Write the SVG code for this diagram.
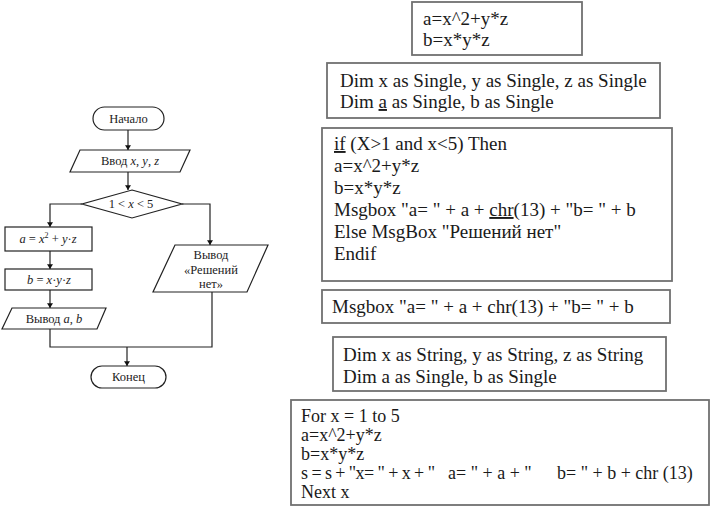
<svg xmlns="http://www.w3.org/2000/svg" width="712" height="509" viewBox="0 0 712 509">
<defs>
<marker id="ah" viewBox="0 0 8 10" refX="8" refY="5" markerWidth="5" markerHeight="6" orient="auto" markerUnits="userSpaceOnUse">
<path d="M0,0 L8,5 L0,10 Z" fill="#111"/>
</marker>
<style>
.fc{fill:#fff;stroke:#222;stroke-width:1.2}
.ft{font-family:"Liberation Serif","Times New Roman",serif;font-size:12.5px;fill:#222;text-anchor:middle}
.i{font-style:italic}
.cn{fill:none;stroke:#222;stroke-width:1.2}
.bx{fill:#fff;stroke:#707070;stroke-width:1.8}
.ct{font-family:"Liberation Serif","Times New Roman",serif;font-size:19px;fill:#1a1a1a}
.cs{font-family:"Liberation Serif","Times New Roman",serif;font-size:18px;fill:#1a1a1a}
.u{text-decoration:underline}
</style>
</defs>
<rect width="712" height="509" fill="#fff"/>

<g id="connectors">
<path class="cn" d="M128,130 V150" marker-end="url(#ah)"/>
<path class="cn" d="M128,172 V190" marker-end="url(#ah)"/>
<path class="cn" d="M82,204 H50 V227" marker-end="url(#ah)"/>
<path class="cn" d="M182,204 H210 V245" marker-end="url(#ah)"/>
<path class="cn" d="M50,251 V269" marker-end="url(#ah)"/>
<path class="cn" d="M50,290 V308" marker-end="url(#ah)"/>
<path class="cn" d="M50,329 V347 H212 V292"/>
<path class="cn" d="M127,347 V366" marker-end="url(#ah)"/>
</g>

<g id="start">
<rect class="fc" x="93" y="107" width="71" height="23" rx="11.5"/>
<text class="ft" x="128.5" y="123">Начало</text>
</g>
<g id="input">
<polygon class="fc" points="80,150 190,150 180,172 70,172"/>
<text class="ft" x="130" y="165">Ввод <tspan class="i">x</tspan>, <tspan class="i">y</tspan>, <tspan class="i">z</tspan></text>
</g>
<g id="decision">
<polygon class="fc" points="132,190 182,204 132,218 82,204"/>
<text class="ft" x="131" y="208">1 &lt; <tspan class="i">x</tspan> &lt; 5</text>
</g>
<g id="calc-a">
<rect class="fc" x="5" y="227" width="87" height="24"/>
<text class="ft" x="48" y="243"><tspan class="i">a</tspan> = <tspan class="i">x</tspan><tspan font-size="8" dy="-5">2</tspan><tspan dy="5"> + </tspan><tspan class="i">y</tspan>·<tspan class="i">z</tspan></text>
</g>
<g id="calc-b">
<rect class="fc" x="5" y="269" width="87" height="21"/>
<text class="ft" x="49" y="284"><tspan class="i">b</tspan> = <tspan class="i">x</tspan>·<tspan class="i">y</tspan>·<tspan class="i">z</tspan></text>
</g>
<g id="output-ab">
<polygon class="fc" points="12,308 106,308 97,329 2,329"/>
<text class="ft" x="54" y="323">Вывод <tspan class="i">a</tspan>, <tspan class="i">b</tspan></text>
</g>
<g id="output-none">
<polygon class="fc" points="175,245 268,245 247,292 153,292"/>
<text class="ft" x="211" y="259">Вывод</text>
<text class="ft" x="211" y="274">«Решений</text>
<text class="ft" x="211" y="288">нет»</text>
</g>
<g id="end">
<rect class="fc" x="91" y="366" width="75" height="22" rx="11"/>
<text class="ft" x="128.5" y="381">Конец</text>
</g>

<g id="code1">
<rect class="bx" x="412" y="2" width="170" height="53"/>
<text class="ct" x="423" y="25">a=x^2+y*z</text>
<text class="ct" x="423" y="46">b=x*y*z</text>
</g>
<g id="code2">
<rect class="bx" x="327" y="63" width="333" height="55"/>
<text class="ct" x="340" y="87">Dim x as Single, y as Single, z as Single</text>
<text class="ct" x="340" y="108">Dim <tspan class="u">a</tspan> as Single, b as Single</text>
</g>
<g id="code3">
<rect class="bx" x="322" y="128" width="350" height="153"/>
<text class="ct" x="334" y="150"><tspan class="u">if</tspan> (X&gt;1 and x&lt;5) Then</text>
<text class="ct" x="334" y="172">a=x^2+y*z</text>
<text class="ct" x="334" y="194">b=x*y*z</text>
<text class="ct" x="334" y="216">Msgbox "a= " + a + <tspan class="u">chr</tspan>(13) + "b= " + b</text>
<text class="ct" x="334" y="238">Else MsgBox "Решений нет"</text>
<text class="ct" x="334" y="260">Endif</text>
</g>
<g id="code4">
<rect class="bx" x="322" y="290" width="348" height="33"/>
<text class="ct" x="332" y="313">Msgbox "a= " + a + chr(13) + "b= " + b</text>
</g>
<g id="code5">
<rect class="bx" x="333" y="337" width="333" height="54"/>
<text class="ct" x="343" y="361">Dim x as String, y as String, z as String</text>
<text class="ct" x="343" y="383">Dim a as Single, b as Single</text>
</g>
<g id="code6">
<rect class="bx" x="291" y="400" width="418" height="105"/>
<text class="cs" x="301" y="422">For x = 1 to 5</text>
<text class="cs" x="301" y="441">a=x^2+y*z</text>
<text class="cs" x="301" y="460">b=x*y*z</text>
<text class="cs" x="301" y="479" textLength="134" lengthAdjust="spacing">s = s + "x= " + x + "</text>
<text class="cs" x="448" y="479">a= " + a + "</text>
<text class="cs" x="557" y="479">b= " + b + chr (13)</text>
<text class="cs" x="301" y="498">Next x</text>
</g>
</svg>
